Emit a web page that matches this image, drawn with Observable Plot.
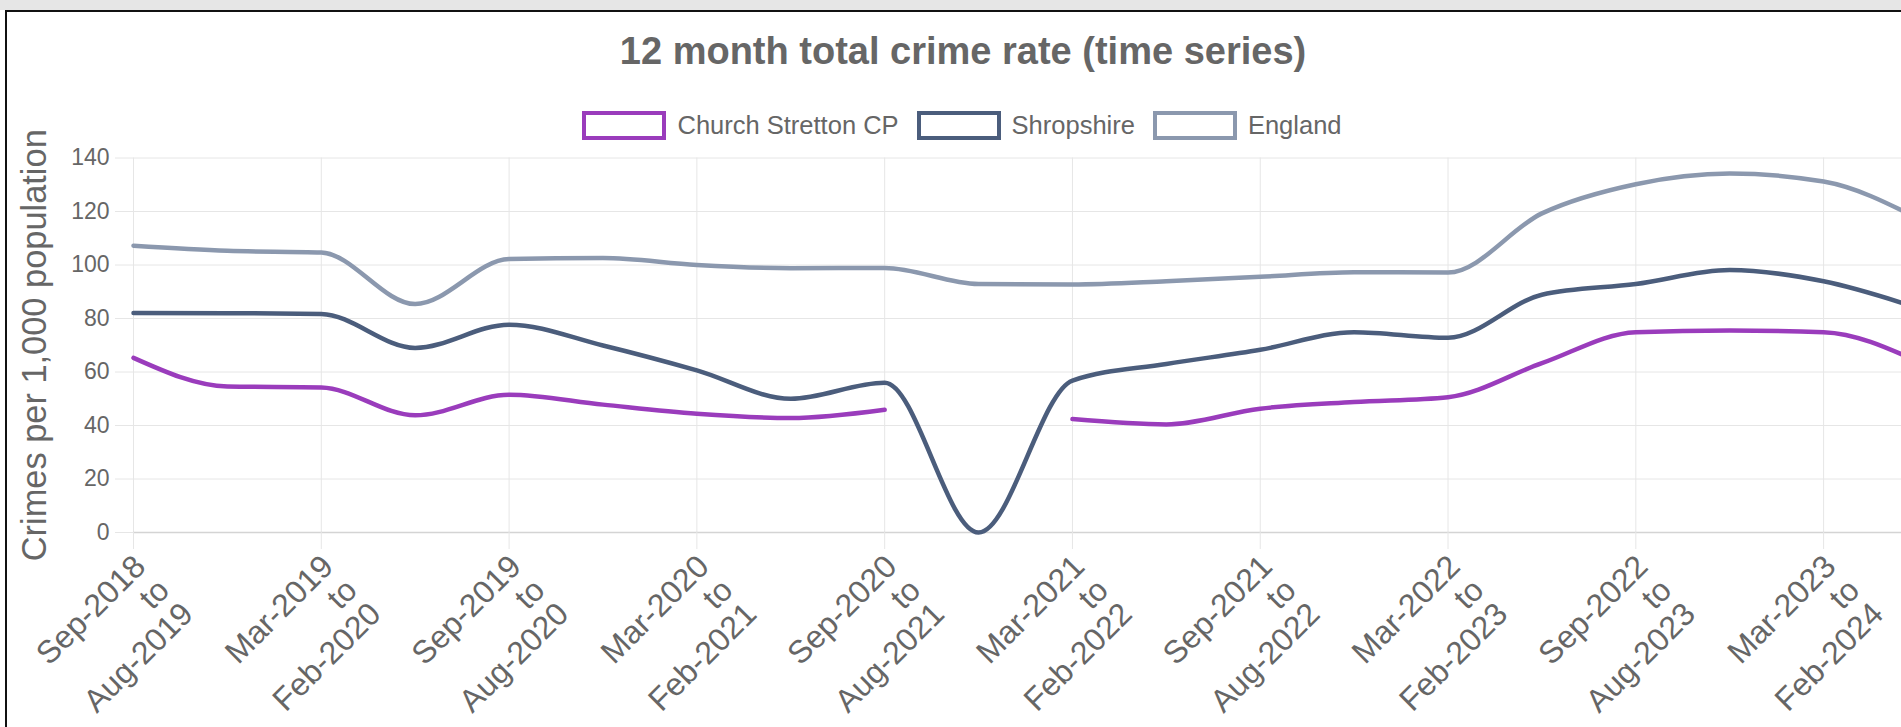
<!DOCTYPE html>
<html><head><meta charset="utf-8">
<script src="https://cdn.jsdelivr.net/npm/d3@7"></script>
<script src="https://cdn.jsdelivr.net/npm/@observablehq/plot@0.6"></script>
<style>
html,body{margin:0;padding:0;background:#fff;overflow:hidden;width:1901px;height:727px;position:relative;}
#topbar{position:absolute;left:0;top:0;width:1901px;height:10px;background:#e6e6e6;}
#frame{position:absolute;left:5px;top:10px;width:1940px;height:760px;border-left:2px solid #111;border-top:2px solid #111;background:#fff;}
#title{position:absolute;left:0;top:32px;width:1926px;text-align:center;font-family:"Liberation Sans",Arial,sans-serif;font-weight:bold;font-size:38px;line-height:38px;color:#666;white-space:nowrap;}
#legend{position:absolute;left:0;top:111px;width:1924px;height:29px;display:flex;justify-content:center;align-items:center;font-family:"Liberation Sans",Arial,sans-serif;font-size:25.5px;line-height:29px;color:#666;white-space:nowrap;}
.item{display:flex;align-items:center;margin:0 9px;}
.box{width:76px;height:21px;border:4px solid;background:#fff;margin-right:11px;}
#chart{position:absolute;left:0;top:140px;width:1940px;}
</style></head>
<body>
<div id="topbar"></div>
<div id="frame"></div>
<div id="title"></div>
<div id="legend"></div>
<div id="chart"></div>
<script>
const titleText = "12 month total crime rate (time series)";
const yLabel = "Crimes per 1,000 population";
const seriesNames = ["Church Stretton CP", "Shropshire", "England"];
const seriesColors = ["#9a3cbc", "#4b5d7c", "#8b98ae"];
const periodStart = ["Sep-2018","Dec-2018","Mar-2019","Jun-2019","Sep-2019","Dec-2019","Mar-2020","Jun-2020","Sep-2020","Dec-2020","Mar-2021","Jun-2021","Sep-2021","Dec-2021","Mar-2022","Jun-2022","Sep-2022","Dec-2022","Mar-2023","Jun-2023"];
const periodEnd = ["Aug-2019","Nov-2019","Feb-2020","May-2020","Aug-2020","Nov-2020","Feb-2021","May-2021","Aug-2021","Nov-2021","Feb-2022","May-2022","Aug-2022","Nov-2022","Feb-2023","May-2023","Aug-2023","Nov-2023","Feb-2024","May-2024"];
const churchStretton = [65.3, 54.6, 54.2, 43.8, 51.5, 47.8, 44.4, 42.8, 45.9, null, 42.4, 40.4, 46.3, 48.8, 50.6, 63.3, 74.9, 75.5, 74.9, 64];
const shropshire = [82.1, 82.0, 81.7, 69.0, 77.7, 69.9, 60.6, 50.0, 56.0, 0, 56.8, 63.0, 68.3, 74.9, 72.8, 88.9, 92.9, 98.1, 93.9, 84];
const england = [107.2, 105.3, 104.7, 85.4, 102.2, 102.6, 100.0, 98.8, 98.9, 92.9, 92.7, 93.9, 95.6, 97.3, 97.2, 119.3, 130.2, 134.2, 131.2, 117.5];
const yTicks = [0, 20, 40, 60, 80, 100, 120, 140];
const shownPeriods = periodStart.filter((d, i) => i % 2 === 0);

document.getElementById("title").textContent = titleText;
const legend = document.getElementById("legend");
seriesNames.forEach((name, i) => {
  const item = document.createElement("div"); item.className = "item";
  const box = document.createElement("div"); box.className = "box"; box.style.borderColor = seriesColors[i];
  const label = document.createElement("span"); label.textContent = name;
  item.appendChild(box); item.appendChild(label); legend.appendChild(item);
});

const allSeries = [churchStretton, shropshire, england];
const rows = [];
seriesNames.forEach((name, s) => periodStart.forEach((p, i) => rows.push({series: name, period: p, value: allSeries[s][i] == null ? NaN : allSeries[s][i]})));
const labelOf = new Map(periodStart.map((p, i) => [p, `${p}\nto\n${periodEnd[i]}`]));

const font = "Liberation Sans, Arial, sans-serif";
const chart = Plot.plot({
  width: 1940, height: 600,
  marginLeft: 133, marginRight: 23, marginTop: 17.5, marginBottom: 208,
  style: {fontFamily: font, color: "#666", background: "transparent", overflow: "visible", maxWidth: "none"},
  x: {type: "point", domain: periodStart, padding: 0, round: false, label: null},
  y: {domain: [0, 140], label: null},
  color: {domain: seriesNames, range: seriesColors},
  marks: [
    Plot.gridY(yTicks, {stroke: "#e6e6e6", strokeOpacity: 1}),
    Plot.gridX(shownPeriods, {stroke: "#e6e6e6", strokeOpacity: 1}),
    Plot.ruleY([0], {stroke: "#d4d4d4", strokeWidth: 1.5}),
    Plot.axisY({ticks: yTicks, tickSize: 18, tickPadding: 6, stroke: "#e6e6e6", fill: "#666", fontSize: 23, label: null}),
    Plot.axisX({ticks: shownPeriods, tickSize: 17, stroke: "#e6e6e6", text: null, label: null}),
    Plot.text(shownPeriods, {x: d => d, frameAnchor: "bottom", text: d => labelOf.get(d), rotate: -45, textAnchor: "end", lineAnchor: "top", dx: -3, dy: 19, fontSize: 32, lineHeight: 1.05, fill: "#666"}),
    Plot.text([yLabel], {frameAnchor: "left", text: d => d, rotate: -90, textAnchor: "middle", lineAnchor: "middle", dx: -98.5, fontSize: 34.4, fill: "#666"}),
    Plot.line(rows, {x: "period", y: "value", z: "series", stroke: "series", curve: "monotone-x", strokeWidth: 4.5, strokeLinejoin: "round"})
  ]
});
document.getElementById("chart").appendChild(chart);
</script>
</body></html>
